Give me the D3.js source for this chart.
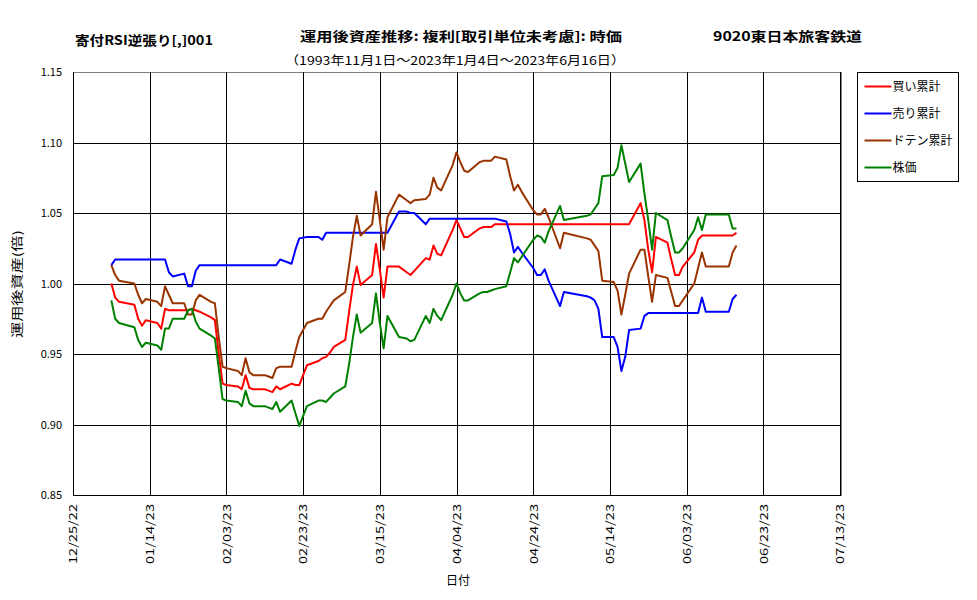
<!DOCTYPE html>
<html>
<head>
<meta charset="utf-8">
<script src="https://cdn.jsdelivr.net/npm/d3@7"></script>
<style>
body { margin: 0; background: #fff; }
text { font-family: "Noto Sans CJK JP", sans-serif; }
</style>
</head>
<body>
<div id="chart"></div>
<script>
// trading days 2023 (MM/DD)
const dates = [
  "01/04","01/05","01/06","01/10","01/11","01/12","01/13","01/16","01/17","01/18","01/19","01/20","01/23","01/24","01/25","01/26","01/27","01/30","01/31",
  "02/01","02/02","02/03","02/06","02/07","02/08","02/09","02/10","02/13","02/14","02/15","02/16","02/17","02/20","02/21","02/22","02/24","02/27","02/28",
  "03/01","03/02","03/03","03/06","03/07","03/08","03/09","03/10","03/13","03/14","03/15","03/16","03/17","03/20","03/22","03/23","03/24","03/27","03/28","03/29","03/30","03/31",
  "04/03","04/04","04/05","04/06","04/07","04/10","04/11","04/12","04/13","04/14","04/17","04/18","04/19","04/20","04/21","04/24","04/25","04/26","04/27","04/28",
  "05/01","05/02","05/08","05/09","05/10","05/11","05/12","05/15","05/16","05/17","05/18","05/19","05/22","05/23","05/24","05/25","05/26","05/29","05/30","05/31",
  "06/01","06/02","06/05","06/06","06/07","06/08","06/09","06/12","06/13","06/14","06/15","06/16"
]

// 買い累計
const buyTotal = [
  1.000,0.990,0.987,0.985,0.975,0.970,0.974,0.972,0.968,0.982,0.981,0.981,0.981,0.981,0.982,0.981,0.980,0.976,0.974,
  0.950,0.929,0.928,0.927,0.925,0.935,0.926,0.925,0.925,0.924,0.923,0.927,0.925,0.929,0.928,0.928,0.942,0.945,0.947,
  0.948,0.951,0.955,0.960,0.980,0.999,1.012,0.999,1.006,1.028,1.010,0.990,1.012,1.012,1.008,1.006,1.009,1.018,1.017,1.027,1.021,1.020,
  1.038,1.045,1.039,1.033,1.033,1.039,1.040,1.040,1.040,1.042,1.042,1.042,1.042,1.042,1.042,1.042,1.042,1.042,1.042,1.042,
  1.042,1.042,1.042,1.042,1.042,1.042,1.042,1.042,1.042,1.042,1.042,1.042,1.057,1.045,1.024,1.008,1.033,1.029,1.017,1.006,
  1.006,1.012,1.022,1.031,1.034,1.034,1.034,1.034,1.034,1.034,1.034,1.036
]

// 売り累計
const sellTotal = [
  1.013,1.017,1.017,1.017,1.017,1.017,1.017,1.017,1.017,1.017,1.008,1.005,1.007,0.998,0.998,1.009,1.013,1.013,1.013,
  1.013,1.013,1.013,1.013,1.013,1.013,1.013,1.013,1.013,1.013,1.013,1.013,1.017,1.014,1.024,1.032,1.033,1.033,1.031,
  1.036,1.036,1.036,1.036,1.036,1.036,1.036,1.036,1.036,1.036,1.036,1.036,1.036,1.051,1.051,1.050,1.050,1.042,1.046,1.046,1.046,1.046,
  1.046,1.046,1.046,1.046,1.046,1.046,1.046,1.046,1.046,1.046,1.044,1.035,1.022,1.026,1.022,1.011,1.006,1.006,1.010,1.002,
  0.984,0.994,0.991,0.990,0.988,0.982,0.962,0.962,0.955,0.938,0.948,0.967,0.968,0.977,0.979,0.979,0.979,0.979,0.979,0.979,
  0.979,0.979,0.979,0.979,0.990,0.980,0.980,0.980,0.980,0.980,0.989,0.992
]

// ドテン累計
const dotenTotal = [
  1.013,1.006,1.002,1.000,0.992,0.986,0.989,0.987,0.984,0.998,0.992,0.986,0.986,0.978,0.978,0.988,0.992,0.987,0.986,
  0.962,0.941,0.940,0.938,0.935,0.947,0.937,0.935,0.935,0.934,0.933,0.940,0.941,0.941,0.952,0.962,0.972,0.975,0.975,
  0.980,0.984,0.988,0.994,1.013,1.033,1.048,1.034,1.042,1.065,1.045,1.024,1.047,1.063,1.059,1.057,1.059,1.060,1.063,1.075,1.068,1.066,
  1.084,1.093,1.086,1.080,1.079,1.086,1.087,1.087,1.087,1.090,1.088,1.076,1.066,1.070,1.065,1.052,1.049,1.049,1.053,1.047,
  1.025,1.036,1.032,1.031,1.027,1.023,1.002,1.001,0.995,0.978,0.992,1.007,1.024,1.024,1.005,0.987,1.006,1.004,0.994,0.984,
  0.984,0.988,1.000,1.011,1.022,1.012,1.012,1.012,1.012,1.012,1.022,1.027
]

// 株価
const stockPrice = [
  0.988,0.975,0.972,0.969,0.960,0.955,0.958,0.956,0.953,0.968,0.968,0.975,0.975,0.981,0.982,0.973,0.968,0.963,0.961,
  0.940,0.918,0.917,0.916,0.913,0.924,0.915,0.913,0.913,0.912,0.911,0.916,0.909,0.917,0.908,0.899,0.913,0.917,0.917,
  0.916,0.919,0.922,0.927,0.943,0.962,0.978,0.965,0.972,0.993,0.972,0.954,0.977,0.962,0.961,0.959,0.960,0.977,0.972,0.982,0.977,0.974,
  0.992,1.000,0.993,0.988,0.988,0.993,0.994,0.994,0.995,0.996,0.998,1.008,1.018,1.015,1.019,1.031,1.034,1.033,1.029,1.037,
  1.055,1.045,1.048,1.049,1.053,1.057,1.076,1.077,1.082,1.098,1.085,1.072,1.085,1.064,1.045,1.024,1.050,1.045,1.033,1.022,
  1.022,1.025,1.038,1.047,1.038,1.049,1.049,1.049,1.049,1.049,1.039,1.039
]

const seriesNames = ["買い累計", "売り累計", "ドテン累計", "株価"]
const xTickLabels = ["12/25/22","01/14/23","02/03/23","02/23/23","03/15/23","04/04/23","04/24/23","05/14/23","06/03/23","06/23/23","07/13/23"]
const yTicks = [0.85, 0.90, 0.95, 1.00, 1.05, 1.10, 1.15]

const colors = ["#ff0000", "#0000ff", "#993300", "#008000"]

const w = 977
const h = 600
const plotLeft = 73, plotRight = 840, plotTop = 72, plotBottom = 495

const parseDay = d3.timeParse("%m/%d/%Y")
const parseTick = d3.timeParse("%m/%d/%y")
const days = dates.map(d => parseDay(d + "/2023"))
const tickDates = xTickLabels.map(parseTick)

const svg = d3.select("#chart").append("svg")
    .attr("width", w)
    .attr("height", h)

svg.append("rect").attr("width", w).attr("height", h).attr("fill", "#fff")

const x = d3.scaleTime()
    .domain([tickDates[0], tickDates[tickDates.length - 1]])
    .range([plotLeft, plotRight])

const y = d3.scaleLinear()
    .domain([0.85, 1.15])
    .range([plotBottom, plotTop])

// plot border (grey)
svg.append("rect")
    .attr("x", plotLeft + 0.5).attr("y", plotTop + 0.5)
    .attr("width", plotRight - plotLeft + 1).attr("height", plotBottom - plotTop)
    .attr("fill", "none").attr("stroke", "#808080")

// grid
const xGrid = d3.axisBottom(x).tickValues(tickDates).tickSize(-(plotBottom - plotTop)).tickFormat("")
svg.append("g")
    .attr("transform", `translate(0,${plotBottom})`)
    .call(xGrid)
    .call(g => g.select(".domain").remove())
    .selectAll("line").attr("stroke", "#000").attr("shape-rendering", "crispEdges")

const yGrid = d3.axisLeft(y).tickValues(yTicks.slice(0, -1)).tickSize(-(plotRight - plotLeft)).tickFormat("")
svg.append("g")
    .attr("transform", `translate(${plotLeft},0)`)
    .call(yGrid)
    .call(g => g.select(".domain").remove())
    .selectAll("line").attr("stroke", "#000").attr("shape-rendering", "crispEdges")

// axes
const xAxis = d3.axisBottom(x).tickValues(tickDates).tickSize(0).tickFormat((d, i) => xTickLabels[i])
svg.append("g")
    .attr("transform", `translate(0,${plotBottom})`)
    .call(xAxis)
    .call(g => g.select(".domain").attr("stroke", "#000").attr("shape-rendering", "crispEdges"))
    .selectAll("text")
    .attr("transform", "rotate(-90)")
    .attr("x", -9)
    .attr("y", 0)
    .attr("dy", "0.35em")
    .attr("text-anchor", "end")
    .attr("font-size", 11)
    .attr("font-family", "'Liberation Sans', sans-serif")
    .attr("textLength", 60)
    .attr("lengthAdjust", "spacingAndGlyphs")
    .attr("fill", "#000")

const yAxis = d3.axisLeft(y).tickValues(yTicks).tickSize(0).tickPadding(11).tickFormat(d3.format(".2f"))
svg.append("g")
    .attr("transform", `translate(${plotLeft},0)`)
    .call(yAxis)
    .call(g => g.select(".domain").attr("stroke", "#000").attr("shape-rendering", "crispEdges"))
    .selectAll("text")
    .attr("font-size", 11)
    .attr("font-family", "'Liberation Sans', sans-serif")
    .attr("fill", "#000")

// lines
const allSeries = [buyTotal, sellTotal, dotenTotal, stockPrice]
const line = d3.line()
    .x((d, i) => x(days[i]))
    .y(d => y(d))

svg.selectAll(".series")
    .data(allSeries)
    .enter()
    .append("path")
    .attr("class", "series")
    .attr("d", line)
    .attr("fill", "none")
    .attr("stroke", (d, i) => colors[i])
    .attr("stroke-width", 2)
    .attr("stroke-linejoin", "round")

// titles
function title(tx, ty, str, size, weight, len) {
    svg.append("text").attr("x", tx).attr("y", ty)
        .text(str)
        .attr("font-size", size)
        .attr("font-weight", weight)
        .attr("textLength", len)
        .attr("lengthAdjust", "spacingAndGlyphs")
}
title(75, 45, "寄付RSI逆張り[,]001", 13, "bold", 138)
title(300, 41, "運用後資産推移: 複利[取引単位未考慮]: 時価", 13, "bold", 322)
title(713, 41, "9020東日本旅客鉄道", 13, "bold", 149)
title(285, 65, "（1993年11月1日～2023年1月4日～2023年6月16日）", 12, "normal", 340)

svg.append("text").attr("x", 458).attr("y", 585).attr("text-anchor", "middle")
    .text("日付").attr("font-size", 12)

svg.append("text")
    .attr("transform", "translate(22,284) rotate(-90)")
    .attr("text-anchor", "middle")
    .attr("textLength", 108)
    .attr("lengthAdjust", "spacingAndGlyphs")
    .text("運用後資産(倍)").attr("font-size", 12)

// legend
const legend = svg.append("g").attr("transform", "translate(857.5,72.5)")
legend.append("rect").attr("width", 101).attr("height", 109)
    .attr("fill", "#fff").attr("stroke", "#000")
const items = legend.selectAll(".item")
    .data(seriesNames)
    .enter()
    .append("g")
    .attr("transform", (d, i) => `translate(0,${14 + i * 27})`)
items.append("line").attr("x1", 7).attr("x2", 34).attr("y1", 0).attr("y2", 0)
    .attr("stroke", (d, i) => colors[i]).attr("stroke-width", 2)
items.append("text").attr("x", 35).attr("y", 0).attr("dy", "0.35em")
    .text(d => d).attr("font-size", 12)
</script>
</body>
</html>
